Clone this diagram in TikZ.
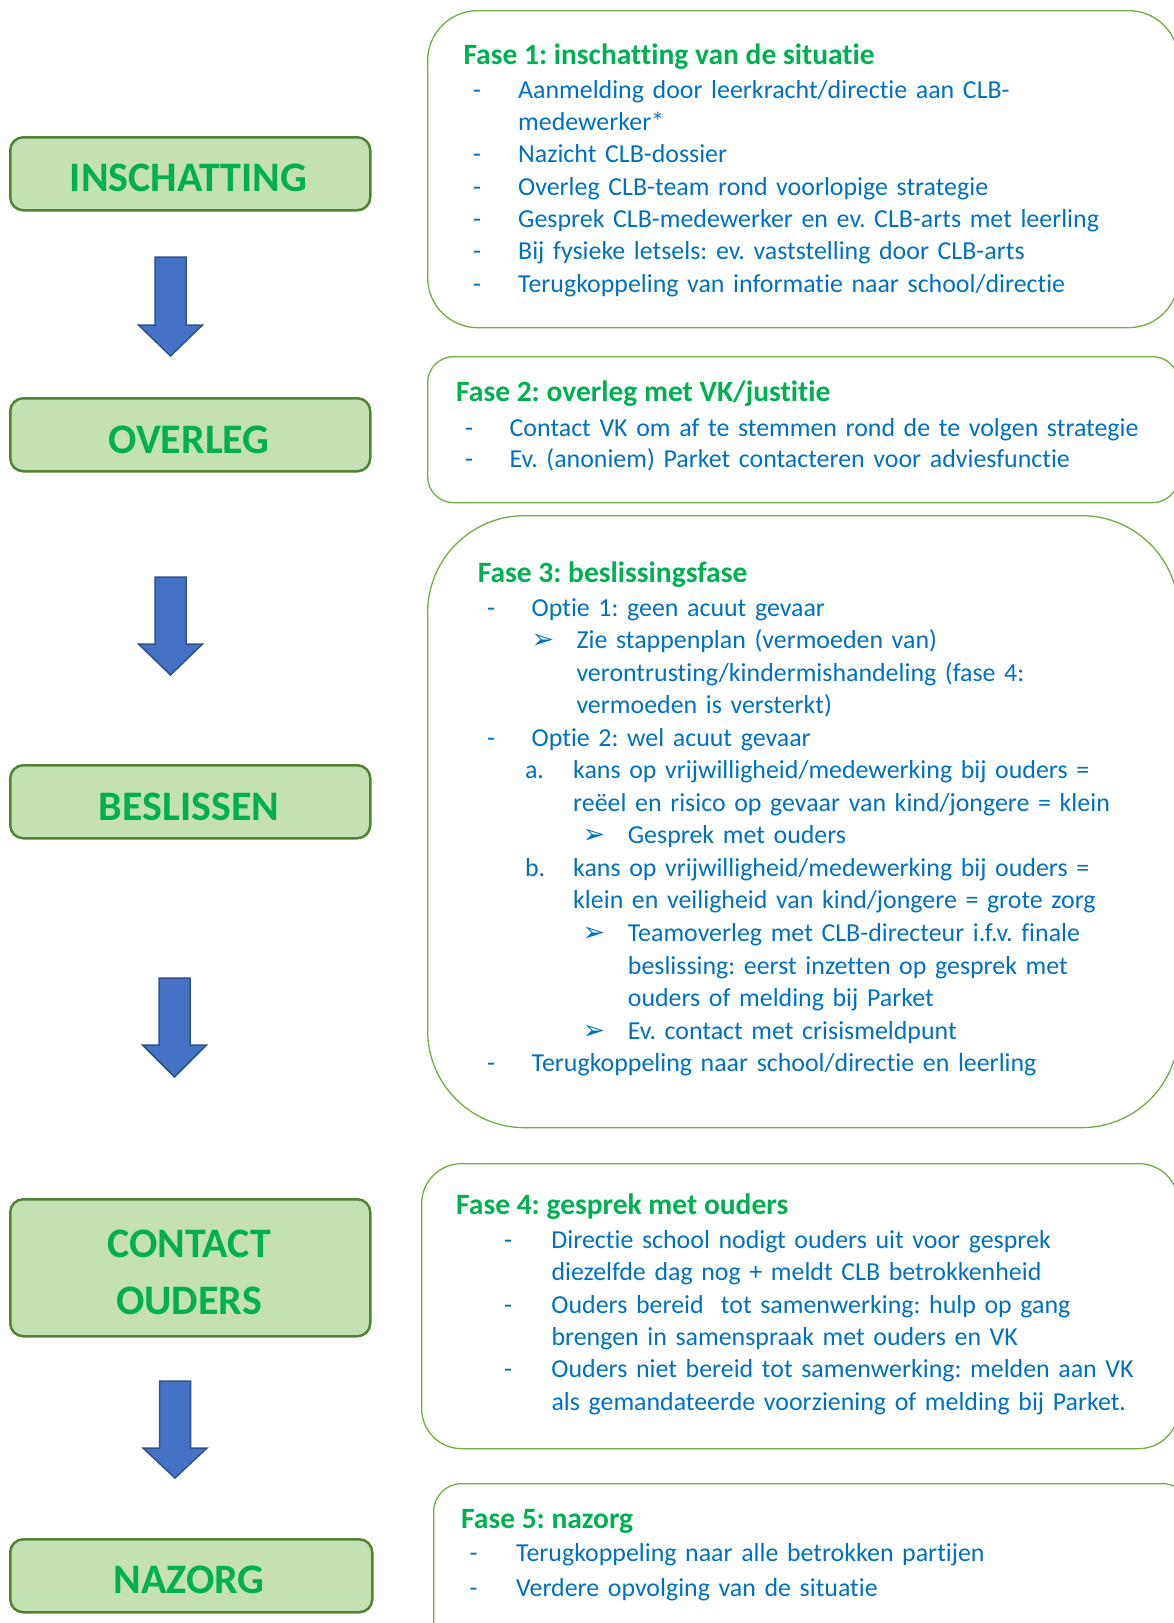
\documentclass[tikz,border=0pt]{standalone}
\usepackage{fontspec}
\setmainfont{Carlito}[Ligatures={NoCommon}]
\newfontfamily\djv{DejaVu Sans}
\definecolor{txtblue}{HTML}{0070C0}
\definecolor{ttlgreen}{HTML}{00B050}
\definecolor{boxfill}{HTML}{C5E0B4}
\definecolor{boxline}{HTML}{548235}
\definecolor{phaseline}{HTML}{70AD47}
\definecolor{arrfill}{HTML}{4472C4}
\definecolor{arrline}{HTML}{2F528F}
\frenchspacing
\newcommand\dsh[1]{\makebox[#1][l]{-}}
\newcommand\arw{{\djv\fontsize{27}{27}\selectfont ➢}}
\newcommand\blockarr[4]{%
  \draw[blockarrow] (#1-15.5,#2) -- (#1+15.5,#2) -- (#1+15.5,#3) -- (#1+32,#3)
    -- (#1,#4) -- (#1-32,#3) -- (#1-15.5,#3) -- cycle;}
\begin{document}
\begin{tikzpicture}[x=1pt,y=-1pt,
  stagebox/.style={draw=boxline, line width=2.5pt, fill=boxfill, rounded corners=13pt,
    inner sep=0pt, anchor=north west},
  stagelabel/.style={text=ttlgreen, font=\fontsize{42}{56.5}\selectfont\bfseries\frenchspacing,
    inner sep=0pt, align=center},
  phasebox/.style={draw=phaseline, line width=1.3pt, inner sep=0pt, anchor=north west},
  phasetitle/.style={text=ttlgreen, font=\fontsize{29.5}{32}\selectfont\bfseries\frenchspacing,
    inner sep=0pt, anchor=base west},
  phaselist/.style={text=txtblue, inner sep=0pt, anchor=base west, text width=760pt,
    align=left},
  blockarrow/.style={draw=arrline, line width=1.5pt, fill=arrfill, line join=miter}
]
\useasboundingbox (0,0) rectangle (1174,1623);
\clip (0,0) rectangle (1174,1623);

% ---------- left stage boxes ----------
\node[stagebox, minimum width=360pt, minimum height=73pt] (b1) at (9,136) {};
\node[stagebox, minimum width=360pt, minimum height=73pt] (b2) at (9,397) {};
\node[stagebox, minimum width=360pt, minimum height=73pt] (b3) at (9,764) {};
\node[stagebox, minimum width=360pt, minimum height=137pt] (b4) at (9,1198) {};
\node[stagebox, minimum width=362pt, minimum height=73pt] (b5) at (9,1538) {};

\node[stagelabel] (s1) at (188.5,178.3) {INSCHATTING};
\node[stagelabel] (s2) at (189,440) {OVERLEG};
\node[stagelabel] (s3) at (189,806.5) {BESLISSEN};
\node[stagelabel] (s4) at (189,1272.4) {CONTACT\\OUDERS};
\node[stagelabel] (s5) at (189,1580) {NAZORG};

% ---------- block arrows ----------
\blockarr{170.5}{257}{325}{356}
\blockarr{170.5}{577}{644}{675}
\blockarr{174.5}{978}{1045}{1077}
\blockarr{175}{1381}{1448}{1478}

% ---------- right phase boxes ----------
\node[phasebox, minimum width=751pt, minimum height=317pt, rounded corners=50pt] (p1) at (427,10) {};
\node[phasebox, minimum width=751pt, minimum height=146pt, rounded corners=26pt] (p2) at (427,356) {};
\node[phasebox, minimum width=751pt, minimum height=612pt, rounded corners=97pt] (p3) at (427,515) {};
\node[phasebox, minimum width=757pt, minimum height=285pt, rounded corners=40pt] (p4) at (421,1163) {};
\node[phasebox, minimum width=757pt, minimum height=180pt, rounded corners=28pt] (p5) at (433,1483) {};

% ---------- phase 1 ----------
\node[phasetitle] (t1) at (463.3,64) {Fase 1: inschatting van de situatie};
\node[phaselist, font=\fontsize{25.9}{32.3}\selectfont\frenchspacing] (l1) at (473,98.3) {%
\dsh{45pt}Aanmelding door leerkracht/directie aan CLB-\\
\hspace*{45pt}medewerker*\\
\dsh{45pt}Nazicht CLB-dossier\\
\dsh{45pt}Overleg CLB-team rond voorlopige strategie\\
\dsh{45pt}Gesprek CLB-medewerker en ev. CLB-arts met leerling\\
\dsh{45pt}Bij fysieke letsels: ev. vaststelling door CLB-arts\\
\dsh{45pt}Terugkoppeling van informatie naar school/directie};

% ---------- phase 2 ----------
\node[phasetitle] (t2) at (456,401.7) {Fase 2: overleg met VK/justitie};
\node[phaselist, font=\fontsize{25.9}{31}\selectfont\frenchspacing] (l2) at (465,436.5) {%
\dsh{44.5pt}Contact VK om af te stemmen rond de te volgen strategie\\
\dsh{44.5pt}Ev. (anoniem) Parket contacteren voor adviesfunctie};

% ---------- phase 3 ----------
\node[phasetitle] (t3) at (477.7,582.7) {Fase 3: beslissingsfase};
\node[phaselist, font=\fontsize{25.9}{32.55}\selectfont\frenchspacing] (l3) at (487,616) {%
\dsh{44.5pt}Optie 1: geen acuut gevaar\\
\hspace*{44.5pt}\makebox[44.8pt][l]{\arw}Zie stappenplan (vermoeden van)\\
\hspace*{89.3pt}verontrusting/kindermishandeling (fase 4:\\
\hspace*{89.3pt}vermoeden is versterkt)\\
\dsh{44.5pt}Optie 2: wel acuut gevaar\\
\hspace*{37.8pt}\makebox[48.2pt][l]{a.}kans op vrijwilligheid/medewerking bij ouders =\\
\hspace*{86pt}reëel en risico op gevaar van kind/jongere = klein\\
\hspace*{95.5pt}\makebox[45.2pt][l]{\arw}Gesprek met ouders\\
\hspace*{37.8pt}\makebox[48.2pt][l]{b.}kans op vrijwilligheid/medewerking bij ouders =\\
\hspace*{86pt}klein en veiligheid van kind/jongere = grote zorg\\
\hspace*{95.5pt}\makebox[45.2pt][l]{\arw}Teamoverleg met CLB-directeur i.f.v. finale\\
\hspace*{140.7pt}beslissing: eerst inzetten op gesprek met\\
\hspace*{140.7pt}ouders of melding bij Parket\\
\hspace*{95.5pt}\makebox[45.2pt][l]{\arw}Ev. contact met crisismeldpunt\\
\dsh{44.5pt}Terugkoppeling naar school/directie en leerling};

% ---------- phase 4 ----------
\node[phasetitle] (t4) at (456,1214) {Fase 4: gesprek met ouders};
\node[phaselist, font=\fontsize{25.9}{32.35}\selectfont\frenchspacing] (l4) at (504,1248.3) {%
\dsh{47.3pt}Directie school nodigt ouders uit voor gesprek\\
\hspace*{47.3pt}diezelfde dag nog + meldt CLB betrokkenheid\\
\dsh{47.3pt}Ouders bereid\ \ tot samenwerking: hulp op gang\\
\hspace*{47.3pt}brengen in samenspraak met ouders en VK\\
\dsh{47.3pt}Ouders niet bereid tot samenwerking: melden aan VK\\
\hspace*{47.3pt}als gemandateerde voorziening of melding bij Parket.};

% ---------- phase 5 ----------
\node[phasetitle] (t5) at (461,1528.3) {Fase 5: nazorg};
\node[phaselist, font=\fontsize{25.9}{35}\selectfont\frenchspacing] (l5) at (469.5,1561) {%
\dsh{46.5pt}Terugkoppeling naar alle betrokken partijen\\
\dsh{46.5pt}Verdere opvolging van de situatie};
\end{tikzpicture}
\end{document}
